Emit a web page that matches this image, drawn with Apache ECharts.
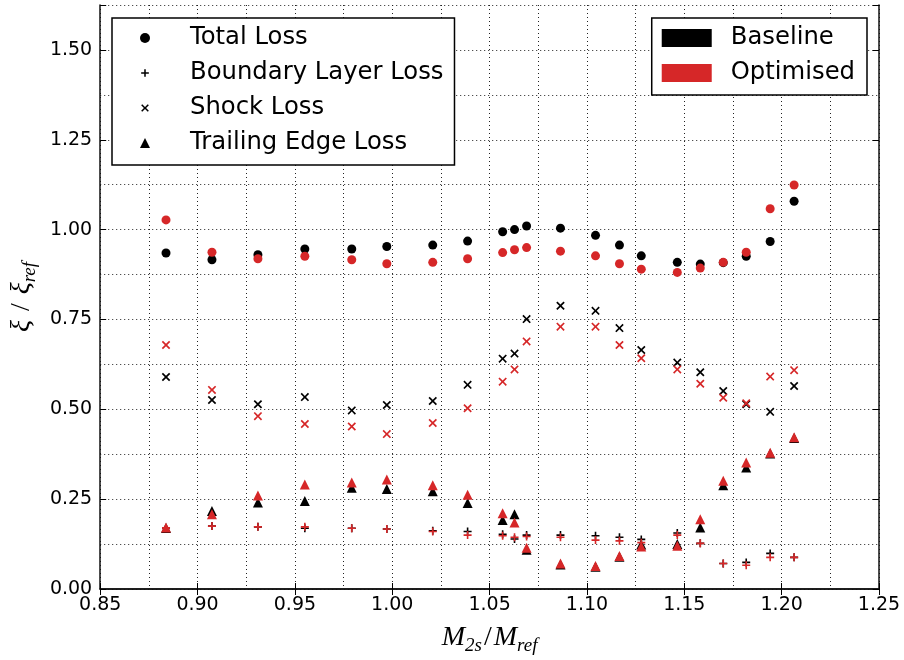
<!DOCTYPE html>
<html>
<head>
<meta charset="utf-8">
<script src="https://cdn.jsdelivr.net/npm/echarts@6/dist/echarts.min.js"></script>
<style>
  html, body { margin: 0; padding: 0; background: #fff; }
  #chart { width: 904px; height: 660px; }
</style>
</head>
<body>
<div id="chart"></div>
<script>
// Isentropic Mach number ratio at each operating point
const mach = [0.8838, 0.9074, 0.9310, 0.9551, 0.9792, 0.9972, 1.0208, 1.0387, 1.0567, 1.0628, 1.0690,
              1.0864, 1.1044, 1.1167, 1.1279, 1.1464, 1.1582, 1.1700, 1.1818, 1.1941, 1.2064];

// Normalised loss coefficients, baseline blade
const totalBase    = [0.935, 0.916, 0.930, 0.946, 0.946, 0.953, 0.957, 0.968, 0.994, 1.000, 1.010,
                      1.004, 0.984, 0.957, 0.927, 0.909, 0.904, 0.908, 0.926, 0.967, 1.079];
const boundaryBase = [0.170, 0.175, 0.173, 0.169, 0.169, 0.167, 0.162, 0.160, 0.152, 0.139, 0.150,
                      0.150, 0.148, 0.144, 0.138, 0.156, 0.127, 0.071, 0.074, 0.099, 0.088];
const shockBase    = [0.590, 0.526, 0.514, 0.534, 0.497, 0.512, 0.523, 0.568, 0.641, 0.655, 0.751,
                      0.788, 0.774, 0.726, 0.665, 0.630, 0.603, 0.551, 0.514, 0.493, 0.565];
const trailingBase = [0.170, 0.217, 0.241, 0.245, 0.282, 0.278, 0.272, 0.239, 0.192, 0.208, 0.109,
                      0.068, 0.062, 0.090, 0.124, 0.125, 0.171, 0.289, 0.338, 0.377, 0.420];

// Normalised loss coefficients, optimised blade
const totalOpt     = [1.027, 0.937, 0.919, 0.926, 0.916, 0.905, 0.909, 0.919, 0.936, 0.944, 0.950,
                      0.940, 0.927, 0.905, 0.890, 0.881, 0.893, 0.909, 0.937, 1.058, 1.124];
const boundaryOpt  = [0.170, 0.175, 0.173, 0.173, 0.169, 0.167, 0.160, 0.150, 0.148, 0.144, 0.146,
                      0.144, 0.136, 0.134, 0.129, 0.150, 0.127, 0.071, 0.066, 0.088, 0.088];
const shockOpt     = [0.679, 0.554, 0.481, 0.459, 0.452, 0.431, 0.462, 0.503, 0.577, 0.611, 0.689,
                      0.730, 0.730, 0.679, 0.642, 0.611, 0.571, 0.532, 0.517, 0.591, 0.609];
const trailingOpt  = [0.171, 0.208, 0.260, 0.291, 0.296, 0.305, 0.289, 0.262, 0.211, 0.185, 0.115,
                      0.071, 0.064, 0.092, 0.118, 0.120, 0.194, 0.301, 0.352, 0.379, 0.422];

const lossNames = ['Total Loss', 'Boundary Layer Loss', 'Shock Loss', 'Trailing Edge Loss'];
const caseNames = ['Baseline', 'Optimised'];

const BLACK = '#000000';
const RED = '#d62728';
const FONT = 'DejaVu Sans';
const MATH = 'Liberation Serif';

// Marker outlines: thin plus and diagonal cross
const plusShape = 'M-1,-5 L1,-5 L1,-1 L5,-1 L5,1 L1,1 L1,5 L-1,5 L-1,1 L-5,1 L-5,-1 L-1,-1 Z';
const crossShape = 'M-3.6,-5 L0,-1.4 L3.6,-5 L5,-3.6 L1.4,0 L5,3.6 L3.6,5 L0,1.4 L-3.6,5 L-5,3.6 L-1.4,0 L-5,-3.6 Z';
// Key icons get an empty margin (bare move-to points) so they sit smaller in their box
const keyMargin = 'M-6.5,-6.5 M6.5,6.5 ';

const markers = [
  { symbol: 'circle', size: 9 },
  { symbol: 'path://' + plusShape, size: 8 },
  { symbol: 'path://' + crossShape, size: 8.5 },
  { symbol: 'triangle', size: 10 }
];
const keyIcons = ['circle', 'path://' + keyMargin + plusShape, 'path://' + keyMargin + crossShape, 'triangle'];

function lossSeries(name, values, marker, color, z) {
  return {
    name: name,
    type: 'scatter',
    data: mach.map((m, i) => [m, values[i]]),
    symbol: marker.symbol,
    symbolSize: marker.size,
    symbolKeepAspect: true,
    itemStyle: { color: color, opacity: 1 },
    z: z,
    silent: true
  };
}

const baseSets = [totalBase, boundaryBase, shockBase, trailingBase];
const optSets = [totalOpt, boundaryOpt, shockOpt, trailingOpt];

const series = [];
baseSets.forEach((vals, k) => series.push(lossSeries(lossNames[k], vals, markers[k], BLACK, 2)));
optSets.forEach((vals, k) => series.push(lossSeries(lossNames[k] + ' (optimised)', vals, markers[k], RED, 3)));
// Colour key entries (no points of their own)
series.push({ name: caseNames[0], type: 'scatter', data: [], itemStyle: { color: BLACK, opacity: 1 } });
series.push({ name: caseNames[1], type: 'scatter', data: [], itemStyle: { color: RED, opacity: 1 } });

const dotted = { color: '#222', width: 1, type: [1, 3] };
const frame = { color: '#111', width: 1.5 };
const tick = { show: true, inside: true, length: 6, lineStyle: { color: '#000', width: 1 } };
const tickLabel = { fontFamily: FONT, fontSize: 19, color: '#000' };

const mathRich = {
  i: { fontFamily: MATH, fontStyle: 'italic', fontSize: 28, lineHeight: 34, color: '#000' },
  u: { fontFamily: MATH, fontSize: 28, lineHeight: 34, color: '#000', padding: [0, 2, 0, 2] },
  s: { fontFamily: MATH, fontStyle: 'italic', fontSize: 19, lineHeight: 19, color: '#000', verticalAlign: 'bottom' }
};

const legendText = { fontFamily: FONT, fontSize: 24.3, color: '#000', lineHeight: 28 };

const option = {
  animation: false,
  backgroundColor: '#fff',
  grid: { left: 99, right: 25, top: 5, bottom: 71, containLabel: false },
  xAxis: [
    {
      type: 'value', min: 0.85, max: 1.25, interval: 0.025, position: 'bottom',
      axisLine: { show: true, lineStyle: frame }, axisTick: { show: false }, axisLabel: { show: false },
      splitLine: { show: true, lineStyle: dotted }
    },
    {
      type: 'value', min: 0.85, max: 1.25, interval: 0.05, position: 'bottom',
      axisLine: { show: false }, axisTick: tick,
      axisLabel: Object.assign({ margin: 7, formatter: v => v.toFixed(2) }, tickLabel),
      splitLine: { show: false },
      name: '{i|M}{s|2s}{u|/}{i|M}{s|ref}',
      nameLocation: 'middle', nameGap: 32,
      nameTextStyle: { rich: mathRich }
    },
    {
      type: 'value', min: 0.85, max: 1.25, interval: 0.05, position: 'top',
      axisLine: { show: true, lineStyle: frame }, axisTick: tick, axisLabel: { show: false },
      splitLine: { show: false }
    }
  ],
  yAxis: [
    {
      type: 'value', min: 0, max: 1.625, interval: 0.125, position: 'left',
      axisLine: { show: true, lineStyle: frame }, axisTick: { show: false }, axisLabel: { show: false },
      splitLine: { show: true, lineStyle: dotted }
    },
    {
      type: 'value', min: 0, max: 1.625, interval: 0.25, position: 'left',
      axisLine: { show: false }, axisTick: tick,
      axisLabel: Object.assign({
        margin: 8,
        formatter: v => (Math.abs(v * 4 - Math.round(v * 4)) < 1e-6 ? v.toFixed(2) : '')
      }, tickLabel),
      splitLine: { show: false },
      name: '{i|ξ}{u| / }{i|ξ}{s|ref}',
      nameLocation: 'middle', nameRotate: 90, nameGap: 58,
      nameTextStyle: { rich: mathRich }
    },
    {
      type: 'value', min: 0, max: 1.625, interval: 0.25, position: 'right',
      axisLine: { show: true, lineStyle: frame }, axisTick: tick, axisLabel: { show: false },
      splitLine: { show: false }
    }
  ],
  legend: [
    {
      data: lossNames.map((n, k) => ({ name: n, icon: keyIcons[k] })),
      orient: 'vertical',
      left: 112, top: 18,
      itemWidth: 10, itemHeight: 10, itemGap: 7,
      padding: [6, 11, 8, 28],
      textStyle: Object.assign({ padding: [0, 0, 0, 35] }, legendText),
      backgroundColor: '#fff', borderColor: '#000', borderWidth: 1.5, borderRadius: 0,
      selectedMode: false, z: 10
    },
    {
      data: caseNames,
      orient: 'vertical',
      right: 37, top: 18,
      icon: 'rect',
      itemWidth: 50, itemHeight: 18, itemGap: 7,
      padding: [6, 12, 8, 10],
      textStyle: Object.assign({ padding: [0, 0, 0, 14] }, legendText),
      backgroundColor: '#fff', borderColor: '#000', borderWidth: 1.5, borderRadius: 0,
      selectedMode: false, z: 10
    }
  ],
  series: series
};

const chart = echarts.init(document.getElementById('chart'), null, { renderer: 'canvas' });
chart.setOption(option);
</script>
</body>
</html>
